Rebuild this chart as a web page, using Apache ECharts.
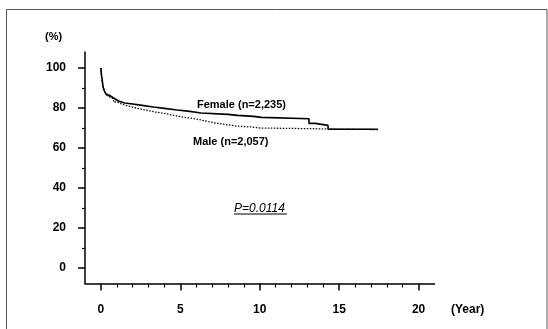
<!DOCTYPE html>
<html>
<head>
<meta charset="utf-8">
<style>
  html, body { margin: 0; padding: 0; background: #fff; }
  #chart { width: 548px; height: 329px; }
</style>
<script src="https://cdn.jsdelivr.net/npm/echarts@6/dist/echarts.min.js"></script>
</head>
<body>
<div id="chart"></div>
<script>
// Kaplan–Meier survival by sex: [year, survival %]
const femaleCurve = [
  [0, 100], [0.03, 97], [0.1, 93], [0.15, 90], [0.25, 88], [0.35, 86.5],
  [0.5, 85.5], [0.7, 84.5], [0.9, 83.5], [1.1, 82.5], [1.5, 82], [2.0, 81.3],
  [2.6, 80.5], [3.3, 79.8], [4.0, 79], [4.8, 78.3], [5.6, 77.5], [6.3, 76.8],
  [8.0, 76.3], [8.6, 75.8], [9.6, 75.3], [10.1, 74.6], [13.1, 72.3],
  [13.5, 71.3], [14.3, 69.4], [17.45, 69.4]
];
const maleCurve = [
  [0, 100], [0.03, 96], [0.1, 92], [0.2, 89], [0.3, 87], [0.45, 85.5],
  [0.6, 84.5], [0.8, 83], [1.0, 82], [1.3, 81], [1.7, 80], [2.2, 79],
  [2.8, 78], [3.4, 77.3], [4.0, 76.3], [4.6, 75.3], [5.3, 74.5], [6.0, 73.5],
  [6.6, 72.5], [7.2, 71.8], [7.8, 71], [8.5, 70.5], [9.5, 70], [10.0, 69.2],
  [17.45, 69.2]
];
const femaleLabel = 'Female (n=2,235)';
const maleLabel = 'Male (n=2,057)';
const pValueText = 'P=0.0114';

const yMajorTicks = [0, 20, 40, 60, 80, 100];
const yMinorTicks = [10, 30, 50, 70, 90];
const xMajorTicks = [0, 5, 10, 15, 20];
const xMinorTicks = [1, 2, 3, 4, 6, 7, 8, 9, 11, 12, 13, 14, 16, 17, 18, 19];

const FONT = '"Liberation Sans", Arial, sans-serif';
const xRange = { min: -1, max: 21 };
const yRange = { min: -7.75, max: 108 };

const chart = echarts.init(document.getElementById('chart'), null, { renderer: 'canvas' });

const axisLineStyle = { color: '#000', width: 1.5 };

function label(text, left, top, size, extra) {
  return Object.assign({
    type: 'text', left: left, top: top,
    style: { text: text, fontSize: size, fontWeight: 'bold', fontFamily: FONT, fill: '#000' }
  }, extra || {});
}

chart.setOption({
  animation: false,
  backgroundColor: '#fff',
  grid: { left: 85, right: 113.5, top: 52, bottom: 45.5 },
  xAxis: [
    {
      type: 'value', min: xRange.min, max: xRange.max,
      axisLine: { show: true, onZero: false, lineStyle: axisLineStyle },
      axisTick: { show: true, customValues: xMajorTicks, length: 7, lineStyle: { color: '#000', width: 1.5 } },
      axisLabel: { customValues: xMajorTicks, margin: 20, color: '#000', fontSize: 12, fontWeight: 'bold', fontFamily: FONT },
      splitLine: { show: false }
    },
    {
      type: 'value', min: xRange.min, max: xRange.max, position: 'bottom',
      axisLine: { show: false, onZero: false },
      axisTick: { show: true, customValues: xMinorTicks, length: 4, lineStyle: { color: '#000', width: 1.2 } },
      axisLabel: { show: false },
      splitLine: { show: false }
    }
  ],
  yAxis: [
    {
      type: 'value', min: yRange.min, max: yRange.max,
      axisLine: { show: true, onZero: false, lineStyle: axisLineStyle },
      axisTick: { show: true, customValues: yMajorTicks, length: 7, lineStyle: { color: '#000', width: 1.5 } },
      axisLabel: { customValues: yMajorTicks, margin: 19, color: '#000', fontSize: 12, fontWeight: 'bold', fontFamily: FONT },
      splitLine: { show: false }
    },
    {
      type: 'value', min: yRange.min, max: yRange.max, position: 'left',
      axisLine: { show: false, onZero: false },
      axisTick: { show: true, customValues: yMinorTicks, length: 3, lineStyle: { color: '#000', width: 1.2 } },
      axisLabel: { show: false },
      splitLine: { show: false }
    }
  ],
  series: [
    {
      name: 'Male', type: 'line', step: 'end', data: maleCurve,
      showSymbol: false, symbol: 'none',
      lineStyle: { color: '#111', width: 1.3, type: [1.5, 1.5] },
      z: 2
    },
    {
      name: 'Female', type: 'line', step: 'end', data: femaleCurve,
      showSymbol: false, symbol: 'none',
      lineStyle: { color: '#000', width: 1.6 },
      z: 3
    }
  ],
  graphic: [
    // frame around the figure
    { type: 'rect', shape: { x: 6.5, y: 9.5, width: 540.5, height: 400 },
      style: { fill: 'none', stroke: '#555', lineWidth: 1 }, silent: true },
    label('(%)', 45, 31, 11),
    label('(Year)', 451, 304, 12),
    label(femaleLabel, 197, 99, 11),
    label(maleLabel, 193, 136, 11),
    { type: 'text', left: 234, top: 202.5,
      style: { text: pValueText, fontSize: 12, fontStyle: 'italic', fontFamily: FONT, fill: '#000' } },
    { type: 'line', shape: { x1: 234, y1: 214, x2: 287, y2: 214 },
      style: { stroke: '#000', lineWidth: 1 } }
  ]
});
</script>
</body>
</html>
